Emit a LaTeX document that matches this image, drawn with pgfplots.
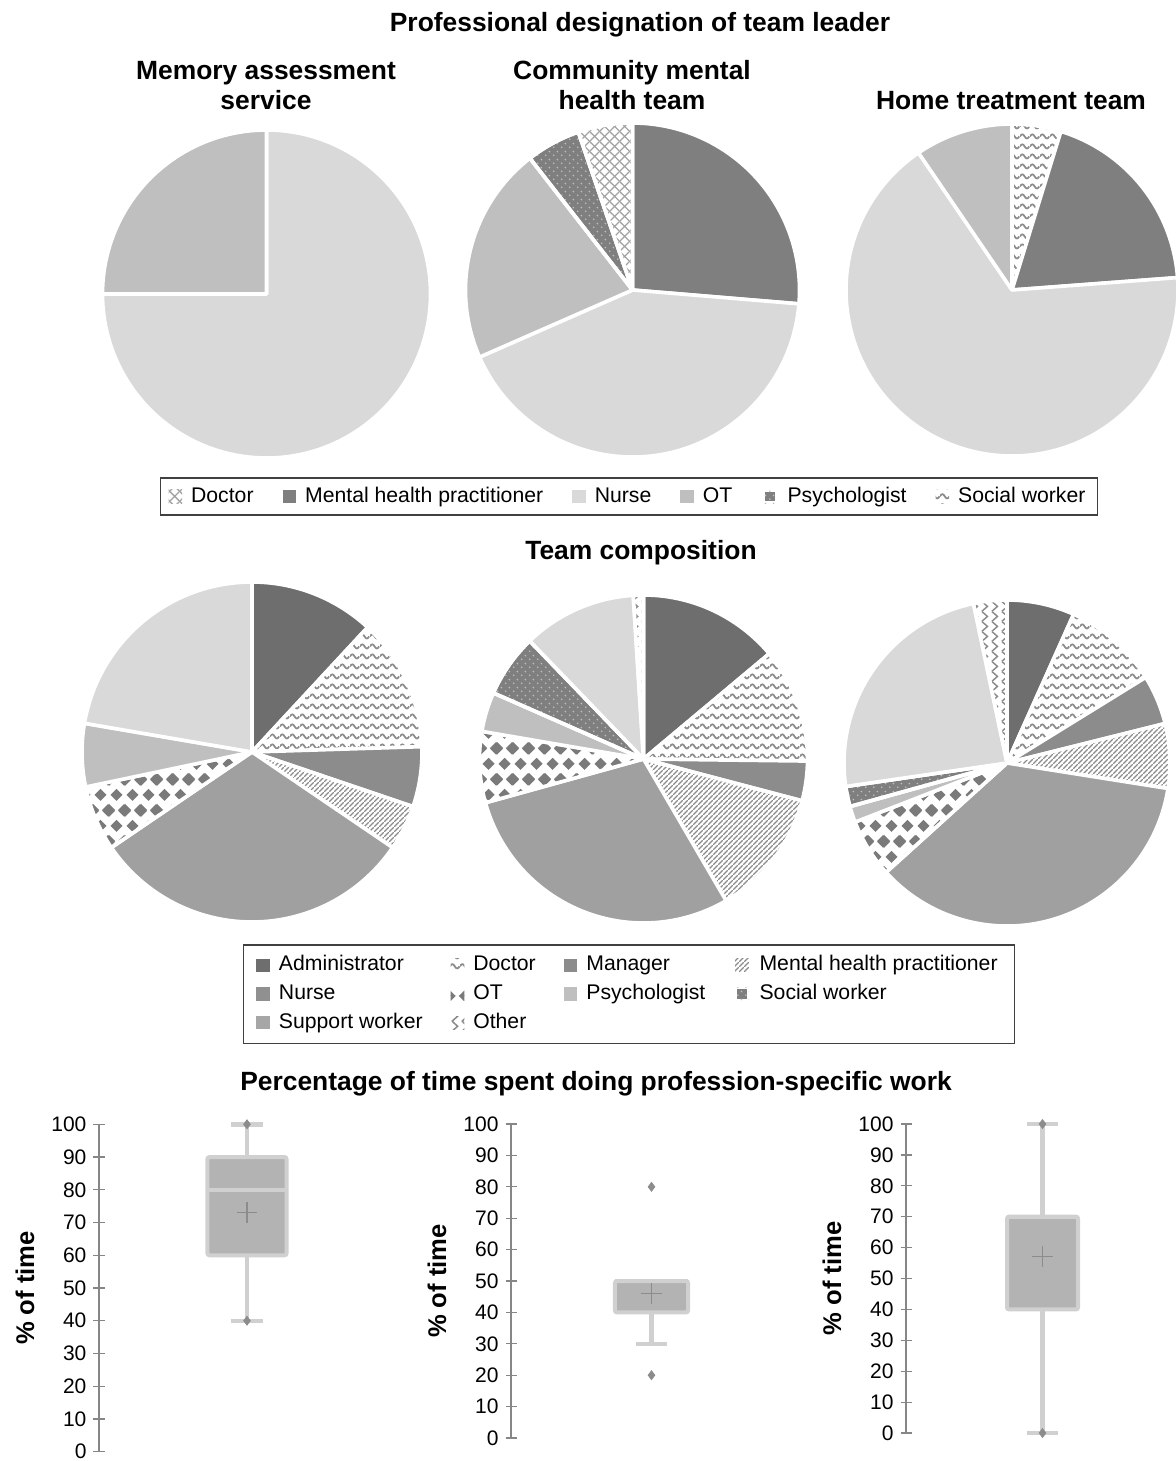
\documentclass[border=0pt]{standalone}
\usepackage{fontspec}
\setmainfont{Liberation Sans}
\usepackage{pgfplots}
\pgfplotsset{compat=1.18}
\usepgfplotslibrary{statistics}
\usetikzlibrary{patterns}

\definecolor{cAdm}{HTML}{6E6E6E}
\definecolor{cMan}{HTML}{8C8C8C}
\definecolor{cNur}{HTML}{A0A0A0}
\definecolor{cPsy}{HTML}{BFBFBF}
\definecolor{cSup}{HTML}{D9D9D9}
\definecolor{cDark}{HTML}{7F7F7F}
\definecolor{cPat}{HTML}{8C8C8C}
\definecolor{cChk}{HTML}{7A7A7A}
\definecolor{cBox}{HTML}{B3B3B3}
\definecolor{cEdge}{HTML}{D0D0D0}
\definecolor{cAxis}{HTML}{868686}
\definecolor{cFrame}{HTML}{404040}
\definecolor{cLNur}{HTML}{909090}
\definecolor{cLSup}{HTML}{A6A6A6}

\newcommand\ttl{\fontsize{13.2}{15}\selectfont\bfseries}
\newcommand\legf{\fontsize{10.6}{12.5}\selectfont}
\newcommand\tickf{\fontsize{10.5}{12}\selectfont}
\newcommand\labf{\fontsize{12.8}{15}\selectfont\bfseries}

% fill patterns
\pgfdeclarepatternformonly{waves}{\pgfqpoint{0pt}{0pt}}{\pgfqpoint{5pt}{5pt}}{\pgfqpoint{5pt}{5pt}}{%
  \pgfsetlinewidth{0.95pt}%
  \pgfpathmoveto{\pgfqpoint{0pt}{2.5pt}}%
  \pgfpathcurveto{\pgfqpoint{0.8pt}{4pt}}{\pgfqpoint{1.7pt}{4pt}}{\pgfqpoint{2.5pt}{2.5pt}}%
  \pgfpathcurveto{\pgfqpoint{3.3pt}{1pt}}{\pgfqpoint{4.2pt}{1pt}}{\pgfqpoint{5pt}{2.5pt}}%
  \pgfusepath{stroke}}
\pgfdeclarepatternformonly{xlat}{\pgfqpoint{0pt}{0pt}}{\pgfqpoint{5pt}{5pt}}{\pgfqpoint{5pt}{5pt}}{%
  \pgfsetlinewidth{0.7pt}%
  \pgfpathmoveto{\pgfpoint{-0.5pt}{-0.5pt}}\pgfpathlineto{\pgfpoint{5.5pt}{5.5pt}}%
  \pgfpathmoveto{\pgfpoint{-0.5pt}{5.5pt}}\pgfpathlineto{\pgfpoint{5.5pt}{-0.5pt}}%
  \pgfusepath{stroke}}
\pgfdeclarepatternformonly{ldots}{\pgfqpoint{0pt}{0pt}}{\pgfqpoint{4pt}{4pt}}{\pgfqpoint{4pt}{4pt}}{%
  \pgfpathcircle{\pgfqpoint{1pt}{1pt}}{0.5pt}%
  \pgfpathcircle{\pgfqpoint{3pt}{3pt}}{0.5pt}%
  \pgfusepath{fill}}
\pgfdeclarepatternformonly{diag}{\pgfqpoint{0pt}{0pt}}{\pgfqpoint{2.4pt}{2.4pt}}{\pgfqpoint{2.4pt}{2.4pt}}{%
  \pgfsetlinewidth{0.6pt}%
  \pgfpathmoveto{\pgfpoint{-0.3pt}{-0.3pt}}\pgfpathlineto{\pgfpoint{2.7pt}{2.7pt}}%
  \pgfusepath{stroke}}
\pgfdeclarepatternformonly{zigzag}{\pgfqpoint{0pt}{0pt}}{\pgfqpoint{5pt}{5pt}}{\pgfqpoint{5pt}{5pt}}{%
  \pgfsetlinewidth{0.8pt}%
  \pgfpathmoveto{\pgfpoint{1pt}{-0.2pt}}\pgfpathlineto{\pgfpoint{4pt}{2.5pt}}\pgfpathlineto{\pgfpoint{1pt}{5.2pt}}%
  \pgfusepath{stroke}}
\pgfdeclarepatternformonly{checker}{\pgfqpoint{0pt}{0pt}}{\pgfqpoint{7.75pt}{15.5pt}}{\pgfqpoint{7.75pt}{15.5pt}}{%
  \pgfpathmoveto{\pgfpoint{-3.1pt}{0pt}}\pgfpathlineto{\pgfpoint{0pt}{3.1pt}}\pgfpathlineto{\pgfpoint{3.1pt}{0pt}}\pgfpathlineto{\pgfpoint{0pt}{-3.1pt}}\pgfpathclose
  \pgfpathmoveto{\pgfpoint{4.65pt}{0pt}}\pgfpathlineto{\pgfpoint{7.75pt}{3.1pt}}\pgfpathlineto{\pgfpoint{10.85pt}{0pt}}\pgfpathlineto{\pgfpoint{7.75pt}{-3.1pt}}\pgfpathclose
  \pgfpathmoveto{\pgfpoint{-3.1pt}{15.5pt}}\pgfpathlineto{\pgfpoint{0pt}{18.6pt}}\pgfpathlineto{\pgfpoint{3.1pt}{15.5pt}}\pgfpathlineto{\pgfpoint{0pt}{12.4pt}}\pgfpathclose
  \pgfpathmoveto{\pgfpoint{4.65pt}{15.5pt}}\pgfpathlineto{\pgfpoint{7.75pt}{18.6pt}}\pgfpathlineto{\pgfpoint{10.85pt}{15.5pt}}\pgfpathlineto{\pgfpoint{7.75pt}{12.4pt}}\pgfpathclose
  \pgfpathmoveto{\pgfpoint{0.775pt}{7.75pt}}\pgfpathlineto{\pgfpoint{3.875pt}{10.85pt}}\pgfpathlineto{\pgfpoint{6.975pt}{7.75pt}}\pgfpathlineto{\pgfpoint{3.875pt}{4.65pt}}\pgfpathclose
  \pgfusepath{fill}}

\tikzset{
  slice/.style={draw=white, line width=1.8pt, line join=round},
  % team leader
  lDoc/.style={slice, pattern=xlat, pattern color=cPat!80},
  lMHP/.style={slice, fill=cDark},
  lNur/.style={slice, fill=cSup},
  lOT/.style={slice, fill=cPsy},
  lPsy/.style={slice, preaction={fill=cDark}, pattern=ldots, pattern color=cPsy},
  lSW/.style={slice, pattern=waves, pattern color=cPat},
  % team composition
  tAdm/.style={slice, fill=cAdm},
  tDoc/.style={slice, pattern=waves, pattern color=cPat},
  tMan/.style={slice, fill=cMan},
  tMHP/.style={slice, pattern=diag, pattern color=cPat},
  tNur/.style={slice, fill=cNur},
  tOT/.style={slice, pattern=checker, pattern color=cChk},
  tPsy/.style={slice, fill=cPsy},
  tSW/.style={slice, preaction={fill=cDark}, pattern=ldots, pattern color=cPsy},
  tSup/.style={slice, fill=cSup},
  tOth/.style={slice, pattern=zigzag, pattern color=cPat},
}

% one slice per value (percent), clockwise from 12 o'clock
\newcommand\pie[2]{%
  \gdef\pieacc{0}%
  \foreach \val/\sty in {#2}{%
    \pgfmathsetmacro\pa{\pieacc}%
    \pgfmathsetmacro\pb{\pieacc+3.6*\val}%
    \pgfmathsetmacro\sx{sin(\pa)}%
    \pgfmathsetmacro\sy{cos(\pa)}%
    \pgfmathsetmacro\sa{90-\pa}%
    \pgfmathsetmacro\ea{90-\pb}%
    \edef\doslice{\noexpand\addplot[\sty] coordinates {(0,0) (\sx,\sy)}
      arc[start angle=\sa, end angle=\ea, radius=#1pt] -- cycle;}%
    \doslice
    \xdef\pieacc{\pb}%
  }%
}

\pgfplotsset{
  pieaxis/.style={hide axis, scale only axis, width=#1, height=#1,
    xmin=-1, xmax=1, ymin=-1, ymax=1, anchor=center, clip=false},
  legaxis/.style={hide axis, scale only axis, width=1pt, height=1pt,
    xmin=0, xmax=1, ymin=0, ymax=1, anchor=center, legend cell align=left,
    legend style={at={(0.5,0.5)}, anchor=center, draw=cFrame, line width=0.7pt,
      font=\legf, inner ysep=2pt,
      nodes={inner sep=2pt, text height=8pt, text depth=2.4pt},
      /tikz/every odd column/.append style={column sep=2.5pt}},
    legend image code/.code={\path[##1, draw=none] (0pt,-3.3pt) rectangle (6.8pt,3.3pt);}},
  bp/.style={scale only axis, anchor=south west, clip=false,
    xmin=0, xmax=1, ymin=0, ymax=100,
    axis y line*=left, axis x line=none, xtick=\empty,
    ytick={0,10,...,100}, tick align=center, major tick length=5.5pt,
    axis line style={draw=cAxis, line width=0.6pt},
    every tick/.style={draw=cAxis, line width=0.6pt},
    /pgf/number format/assume math mode=true,
    yticklabel style={font=\tickf},
    ylabel={\% of time},
    every axis y label/.style={at={([xshift=-37pt]axis description cs:0,0.5)},
      rotate=90, anchor=center, font=\labf},
    boxplot/draw direction=y,
    boxplot/every box/.style={fill=cBox, draw=cEdge, line width=2pt, rounded corners=1pt},
    boxplot/every whisker/.style={draw=cEdge, line width=2.2pt},
    boxplot/every median/.style={draw=cEdge, line width=2pt}},
  inner/.style={only marks, mark=diamond*, mark size=2.2pt, color=cMan},
  mean/.style={only marks, mark=+, mark size=5.2pt, color=cMan, mark options={line width=0.6pt}},
}

\begin{document}
\begin{tikzpicture}
\useasboundingbox (0,0) rectangle (588pt,-730.5pt);

% ---------- professional designation of team leader ----------
\node[font=\ttl, anchor=base] at (320pt,-15.75pt) {Professional designation of team leader};
\node[font=\ttl, anchor=base] at (133pt,-40pt) {Memory assessment};
\node[font=\ttl, anchor=base] at (133pt,-55pt) {service};
\node[font=\ttl, anchor=base] at (316pt,-40pt) {Community mental};
\node[font=\ttl, anchor=base] at (316pt,-55pt) {health team};
\node[font=\ttl, anchor=base] at (505.5pt,-55pt) {Home treatment team};

\begin{axis}[pieaxis=164pt, at={(133.25pt,-147pt)}]
  \pie{82}{75/lNur, 25/lOT}
\end{axis}
\begin{axis}[pieaxis=167pt, at={(316.25pt,-145pt)}]
  \pie{83.5}{26.32/lMHP, 42.1/lNur, 21.05/lOT, 5.27/lPsy, 5.26/lDoc}
\end{axis}
\begin{axis}[pieaxis=166pt, at={(506pt,-145pt)}]
  \pie{83}{4.76/lSW, 19.05/lMHP, 66.67/lNur, 9.52/lOT}
\end{axis}

\begin{axis}[legaxis, at={(314.5pt,-248.25pt)}, legend columns=6,
  legend style={inner xsep=4pt, /tikz/every even column/.append style={column sep=12.5pt}}]
  \addlegendimage{lDoc}\addlegendentry{Doctor}
  \addlegendimage{lMHP}\addlegendentry{Mental health practitioner}
  \addlegendimage{lNur}\addlegendentry{Nurse}
  \addlegendimage{lOT}\addlegendentry{OT}
  \addlegendimage{lPsy}\addlegendentry{Psychologist}
  \addlegendimage{lSW}\addlegendentry{Social worker}
\end{axis}

% ---------- team composition ----------
\node[font=\ttl, anchor=base] at (320.5pt,-279.75pt) {Team composition};

\begin{axis}[pieaxis=170pt, at={(126pt,-376pt)}]
  \pie{85}{11.9/tAdm, 12.6/tDoc, 5.7/tMan, 4.3/tMHP, 31.0/tNur, 6.2/tOT, 6.0/tPsy, 22.3/tSup}
\end{axis}
\begin{axis}[pieaxis=164pt, at={(321.75pt,-379.5pt)}]
  \pie{82}{13.9/tAdm, 11.3/tDoc, 3.9/tMan, 12.5/tMHP, 29.1/tNur, 7.0/tOT, 3.9/tPsy, 6.2/tSW, 11.2/tSup, 1.0/tOth}
\end{axis}
\begin{axis}[pieaxis=163pt, at={(503.5pt,-381.5pt)}]
  \pie{81.5}{6.7/tAdm, 9.5/tDoc, 4.9/tMan, 6.4/tMHP, 35.8/tNur, 5.8/tOT, 1.6/tPsy, 2.0/tSW, 24.0/tSup, 3.3/tOth}
\end{axis}

\begin{axis}[legaxis, at={(314.5pt,-497pt)}, legend columns=4,
  legend style={inner xsep=6.5pt, inner ysep=3pt,
    /tikz/every even column/.append style={column sep=12pt}, row sep=0pt}]
  \addlegendimage{tAdm}\addlegendentry{Administrator}
  \addlegendimage{tDoc}\addlegendentry{Doctor}
  \addlegendimage{tMan}\addlegendentry{Manager}
  \addlegendimage{tMHP}\addlegendentry{Mental health practitioner}
  \addlegendimage{slice, fill=cLNur}\addlegendentry{Nurse}
  \addlegendimage{tOT}\addlegendentry{OT}
  \addlegendimage{tPsy}\addlegendentry{Psychologist}
  \addlegendimage{tSW}\addlegendentry{Social worker}
  \addlegendimage{slice, fill=cLSup}\addlegendentry{Support worker}
  \addlegendimage{tOth}\addlegendentry{Other}
\end{axis}

% ---------- percentage of time ----------
\node[font=\ttl, anchor=base] at (298pt,-545pt) {Percentage of time spent doing profession-specific work};

\begin{axis}[bp, at={(49.5pt,-725.85pt)}, width=148pt, height=163.7pt]
  \addplot[boxplot prepared={draw position=0.5, lower whisker=40, lower quartile=60,
    median=80, upper quartile=90, upper whisker=100, box extend=0.267, whisker extend=0.105}]
    coordinates {};
  \addplot[inner] coordinates {(0.5,100) (0.5,40)};
  \addplot[mean] coordinates {(0.5,73)};
\end{axis}
\begin{axis}[bp, at={(255.5pt,-719pt)}, width=140.5pt, height=157pt]
  \addplot[boxplot prepared={draw position=0.5, lower whisker=30, lower quartile=40,
    median=50, upper quartile=50, upper whisker=50, box extend=0.26, whisker extend=0.107}]
    coordinates {};
  \addplot[inner] coordinates {(0.5,80) (0.5,20)};
  \addplot[mean] coordinates {(0.5,46)};
\end{axis}
\begin{axis}[bp, at={(453pt,-716.5pt)}, width=136.5pt, height=154.5pt]
  \addplot[boxplot prepared={draw position=0.5, lower whisker=0, lower quartile=40,
    median=70, upper quartile=70, upper whisker=100, box extend=0.26, whisker extend=0.11}]
    coordinates {};
  \addplot[inner] coordinates {(0.5,100) (0.5,0)};
  \addplot[mean] coordinates {(0.5,57)};
\end{axis}
\end{tikzpicture}
\end{document}
